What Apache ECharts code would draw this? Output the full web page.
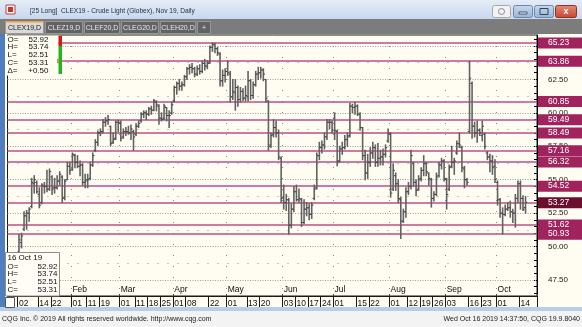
<!DOCTYPE html>
<html><head><meta charset="utf-8">
<script src="https://cdn.jsdelivr.net/npm/echarts@6/dist/echarts.min.js"></script>
<style>html,body{margin:0;padding:0;background:#fff;}#c{width:582px;height:327px;}</style>
</head><body><div id="c"></div>
<script>
// ---- data ----
const opens  = [49.6,50.3,51.3,52.3,52.5,53.0,54.7,54.8,53.9,53.3,54.5,54.5,54.3,55.2,54.4,54.4,54.9,55.2,53.7,55.0,56.0,
  55.8,56.8,56.3,56.0,56.1,54.8,55.0,55.1,56.1,57.2,57.8,58.5,58.6,59.3,59.4,59.0,57.8,58.1,59.3,
  59.2,58.2,58.6,58.6,58.5,58.6,58.4,59.0,59.4,59.9,60.0,59.9,60.3,60.2,60.8,60.5,59.6,59.6,60.4,59.8,60.0,
  60.9,61.9,62.2,62.0,62.1,62.7,63.3,63.4,63.3,62.9,63.3,63.1,63.7,63.5,63.8,64.9,65.1,64.8,64.4,62.4,62.8,
  63.1,62.9,61.2,61.5,61.9,61.0,61.6,61.1,61.2,62.4,61.3,62.1,62.9,63.0,63.2,62.5,60.9,57.6,58.4,58.9,58.5,56.6,
  53.7,53.3,53.5,51.6,52.8,54.1,53.5,53.5,51.8,52.8,52.9,52.4,53.6,54.4,56.8,57.4,57.6,58.2,59.3,59.3,
  59.6,58.6,56.4,57.3,57.4,58.0,58.3,60.5,60.4,60.5,59.9,58.9,56.8,55.5,56.3,57.0,57.4,56.3,56.6,56.7,56.9,57.9,
  58.4,54.3,55.3,54.7,53.5,51.9,52.6,54.1,54.5,56.2,54.8,54.3,55.1,55.7,56.2,55.5,55.0,53.6,53.9,55.3,56.1,56.4,
  55.0,54.3,56.0,56.3,57.0,57.7,57.4,55.8,55.0,58.6,62.2,59.0,58.5,58.7,58.3,58.4,57.0,56.7,56.4,56.0,
  54.8,53.5,52.5,52.4,52.8,52.9,52.6,52.5,53.6,54.7,53.6,52.92];
const highs  = [50.9,51.0,52.6,52.7,52.9,55.1,55.3,54.9,54.4,54.7,54.8,55.7,55.8,55.3,55.1,55.3,55.6,55.3,55.0,56.3,56.3,
  57.0,56.9,56.8,56.4,56.2,55.4,55.4,56.3,57.0,58.0,58.65,58.8,59.5,59.65,59.8,59.0,58.5,59.4,59.45,
  59.4,58.8,58.9,59.0,59.1,58.7,59.2,59.4,60.0,60.15,60.15,60.4,60.5,61.0,60.9,60.6,60.0,60.65,60.4,60.15,60.8,
  62.0,62.3,62.5,62.3,62.8,63.4,63.6,63.7,63.4,63.5,63.6,63.9,64.0,63.9,65.0,65.25,65.2,64.9,64.5,63.2,63.3,
  63.9,63.1,62.5,62.5,62.0,61.9,61.8,62.0,63.1,62.5,62.3,63.1,63.4,63.4,63.3,62.5,60.9,58.5,59.5,59.4,58.7,56.7,
  54.6,53.9,53.6,53.2,54.5,54.6,54.3,53.6,53.5,53.3,53.2,53.3,54.6,57.0,57.8,57.9,58.5,59.5,59.5,59.4,
  60.0,58.7,57.5,57.8,58.3,58.5,60.7,60.65,60.8,60.6,60.0,58.9,57.2,56.9,57.4,57.8,57.6,57.7,57.2,57.3,57.6,58.8,
  58.5,56.2,55.5,55.0,53.7,52.8,54.4,54.8,57.2,56.3,55.0,55.3,55.9,56.8,56.3,55.5,55.1,54.1,55.5,56.3,56.6,56.5,
  55.1,56.1,57.5,56.6,57.9,58.5,57.5,56.0,55.1,63.86,62.3,59.3,59.4,58.8,59.4,58.5,57.1,56.9,56.8,56.5,
  54.9,53.6,52.9,53.1,53.3,53.4,52.8,53.9,54.9,54.9,53.8,53.74];
const lows   = [49.4,49.9,51.2,51.3,51.9,52.9,54.0,54.0,52.9,53.2,54.0,54.1,54.2,53.9,54.0,54.3,54.6,53.3,53.5,55.0,55.4,
  55.7,55.9,55.9,55.3,54.6,54.4,54.4,55.0,56.0,57.1,57.55,58.3,58.5,59.0,59.15,57.55,57.7,58.0,58.6,
  57.9,58.1,58.3,58.4,58.0,57.2,58.3,58.9,59.3,59.65,59.5,59.8,59.9,60.15,60.15,59.15,59.4,59.5,59.4,58.9,59.9,
  60.8,61.4,61.7,61.7,62.0,62.5,62.9,63.0,62.7,62.8,62.9,63.0,63.2,63.3,63.7,64.6,64.5,64.3,62.0,62.0,62.3,
  62.8,60.8,61.0,60.2,60.5,60.8,60.9,60.9,60.9,61.0,61.1,62.0,62.5,62.6,62.4,60.8,57.2,57.4,58.2,58.2,56.5,53.3,
  52.8,52.7,50.93,51.4,52.6,53.4,53.3,51.5,51.7,52.3,52.0,52.1,53.5,54.3,56.5,57.0,57.3,58.0,58.8,58.5,
  58.0,56.05,56.3,56.9,57.3,57.5,58.2,60.0,59.9,59.8,58.7,56.5,55.0,55.1,56.0,56.6,56.0,56.0,56.1,56.1,56.7,57.8,
  53.7,54.2,54.2,53.3,50.6,51.8,52.2,53.9,54.3,54.5,53.8,54.2,54.9,55.3,55.3,54.6,52.95,53.4,53.8,55.2,55.8,54.9,
  52.8,54.2,55.9,55.4,56.9,57.4,55.6,54.4,54.6,58.5,58.1,58.2,57.8,58.3,57.9,57.3,56.5,55.6,55.4,54.8,
  53.1,52.2,50.95,52.3,52.7,52.2,51.8,51.45,53.3,52.8,52.7,52.51];
const closes = [50.5,50.8,52.3,52.5,52.8,54.8,55.0,54.1,53.1,54.6,54.5,54.3,55.6,54.3,54.4,54.9,55.4,53.6,54.9,56.0,55.7,
  56.9,56.3,56.0,56.1,54.8,54.9,55.0,56.1,56.8,57.8,58.5,58.6,59.3,59.4,59.5,57.7,58.0,59.3,59.3,
  58.1,58.6,58.6,58.5,58.8,58.2,59.0,59.2,59.9,60.0,59.9,60.3,60.2,60.9,60.6,59.6,59.5,60.5,59.8,59.8,60.6,
  61.9,62.2,62.0,62.1,62.7,63.3,63.4,63.3,62.9,63.3,63.1,63.7,63.5,63.7,64.9,65.1,64.8,64.5,62.4,62.8,63.1,
  63.0,61.2,61.6,61.9,61.0,61.6,61.1,61.3,62.4,61.3,62.1,62.9,63.0,63.2,62.9,61.1,57.5,58.3,58.9,58.5,56.7,53.6,
  53.3,53.5,51.6,52.8,54.1,53.5,53.6,51.8,52.8,52.9,52.4,53.1,54.3,56.8,57.4,57.6,58.2,59.3,59.3,58.7,
  58.7,56.4,57.3,57.4,58.0,58.2,60.5,60.4,60.5,59.9,58.9,56.8,55.5,56.3,57.0,57.4,56.3,56.6,56.7,56.9,57.4,58.5,
  54.0,55.7,54.7,53.6,51.9,52.6,54.1,54.5,56.8,54.8,54.2,55.0,55.7,56.2,55.6,55.1,53.6,53.9,55.2,56.1,56.4,55.1,
  53.9,55.9,56.3,56.4,57.7,57.6,55.9,55.0,54.8,62.6,59.0,58.5,58.7,58.5,59.0,57.5,56.7,56.4,55.9,55.0,
  53.5,52.5,52.4,52.8,52.9,52.6,52.5,53.6,54.7,53.6,52.8,53.31];
const holidays = ['2019-01-21','2019-02-18','2019-04-19','2019-05-27','2019-07-04','2019-09-02'];
const weekTickDates = ['2019-01-02','2019-01-14','2019-01-22','2019-02-01','2019-02-11','2019-02-19','2019-03-01','2019-03-11',
  '2019-03-18','2019-03-25','2019-04-01','2019-04-08','2019-04-22','2019-05-01','2019-05-13','2019-05-20','2019-06-03','2019-06-10',
  '2019-06-17','2019-06-24','2019-07-01','2019-07-15','2019-07-22','2019-08-01','2019-08-12','2019-08-19','2019-08-26','2019-09-03',
  '2019-09-16','2019-09-23','2019-10-01','2019-10-14'];
const monthStartDates = ['2019-02-01','2019-03-01','2019-04-01','2019-05-01','2019-06-03','2019-07-01','2019-08-01','2019-09-03','2019-10-01'];
const monthNames = ['Feb','Mar','Apr','May','Jun','Jul','Aug','Sep','Oct'];
const gridPrices = [47.5,50,52.5,55,57.5,60,62.5,65];
const sparsePrices = [48.75,51.25,53.75,56.25,58.75,61.25,63.75];
const levelPrices = [65.23,63.86,60.85,59.49,58.49,57.16,56.32,54.52,51.62,50.93];
const lastPrice = 53.27;
const minorTicks = [];
for (let v = 46.5; v <= 65.5; v += 0.5) minorTicks.push(+v.toFixed(2));

// ---- trading calendar for the category axis ----
function buildDates(){
  const out=[]; const d=new Date(Date.UTC(2019,0,2)); const end=Date.UTC(2019,9,16);
  while(d.getTime()<=end){
    const wd=d.getUTCDay(); const s=d.toISOString().slice(0,10);
    if(wd!==0&&wd!==6&&holidays.indexOf(s)<0) out.push(s);
    d.setUTCDate(d.getUTCDate()+1);
  }
  return out;
}
const dates = buildDates();
const cats = ['p0','p1','p2','p3'].concat(dates, ['q0','q1','q2','q3']);
const tickSet = new Set(weekTickDates);
const monthMap = {}; monthStartDates.forEach((d,i)=>monthMap[d]=monthNames[i]);
const ohlc = dates.map((d,i)=>[d, opens[i], highs[i], lows[i], closes[i]]);

const FONT = '"Liberation Sans", Arial, sans-serif';
const chart = echarts.init(document.getElementById('c'), null, {renderer:'canvas', width:582, height:327});

function renderItem(params, api){
  const x = api.value(0);
  const o = api.coord([x, api.value(1)]);
  const h = api.coord([x, api.value(2)]);
  const l = api.coord([x, api.value(3)]);
  const c = api.coord([x, api.value(4)]);
  const cx = h[0];
  const st = {stroke:'#626262', lineWidth:1.6};
  return {type:'group', children:[
    {type:'line', shape:{x1:cx,y1:h[1]-0.5,x2:cx,y2:l[1]+0.5}, style:st},
    {type:'line', shape:{x1:cx-1.7,y1:o[1],x2:cx,y2:o[1]}, style:{stroke:'#444', lineWidth:1}},
    {type:'line', shape:{x1:cx,y1:c[1],x2:cx+1.7,y2:c[1]}, style:{stroke:'#444', lineWidth:1}}
  ]};
}

function txt(x,y,text,opt){
  opt = opt||{};
  return {type:'text', x:x, y:y, z:120, scaleX:opt.sx||1, style:{text:text, x:0, y:0, fill:opt.fill||'#111',
    font:(opt.w||'normal')+' '+(opt.fs||8)+'px '+FONT, align:opt.align||'left', verticalAlign:'middle'}};
}
function rect(x,y,w,h,fill,stroke,r){
  return {type:'rect', z:110, shape:{x:x,y:y,width:w,height:h,r:r||0}, style:{fill:fill, stroke:stroke||null, lineWidth:1}};
}
const G = [];
// title bar
G.push({type:'rect', z:100, shape:{x:0,y:0,width:582,height:19}, style:{fill:new echarts.graphic.LinearGradient(0,0,0,1,[{offset:0,color:'#E4EDF8'},{offset:1,color:'#C8D8EE'}])}});
G.push(rect(6,5,9,9,'#FFFFFF','#C04040'));
G.push(rect(8,7,5,5,'#D03030'));
G.push(txt(30,10.5,'[25 Long]  CLEX19 - Crude Light (Globex), Nov 19, Daily',{fs:8,sx:0.82,fill:'#1E2A3A'}));
G.push(rect(492.5,5.5,18,12,'#F2F2F2','#A8A8A8',2));
G.push({type:'circle', z:115, shape:{cx:501.5,cy:11.5,r:3}, style:{fill:'none', stroke:'#888', lineWidth:1}});
G.push({type:'rect', z:110, shape:{x:513.5,y:5.5,width:19,height:12,r:2}, style:{fill:new echarts.graphic.LinearGradient(0,0,0,1,[{offset:0,color:'#C9D9EE'},{offset:1,color:'#99B3D8'}]), stroke:'#6A88B2'}});
G.push(rect(519,12,8,2,'#FFFFFF','#44556A'));
G.push({type:'rect', z:110, shape:{x:534.5,y:5.5,width:19,height:12,r:2}, style:{fill:new echarts.graphic.LinearGradient(0,0,0,1,[{offset:0,color:'#C9D9EE'},{offset:1,color:'#99B3D8'}]), stroke:'#6A88B2'}});
G.push(rect(540,8.5,8,6,'none','#33445A'));
G.push({type:'rect', z:110, shape:{x:555.5,y:5.5,width:21,height:12,r:2}, style:{fill:new echarts.graphic.LinearGradient(0,0,0,1,[{offset:0,color:'#E58C78'},{offset:1,color:'#C8432E'}]), stroke:'#8E3324'}});
G.push(txt(566,11.5,'x',{fs:9,fill:'#FFFFFF',align:'center',w:'bold'}));
// tab row
G.push(rect(0,19,582,15,'#7C7C7C'));
const tabs = [['CLEX19,D',5,43],['CLEZ19,D',45,82],['CLEF20,D',84,119],['CLEG20,D',121,158],['CLEH20,D',160,195],['+',197,210]];
tabs.forEach((t,i)=>{
  G.push(rect(t[1]+0.5,21.5,t[2]-t[1],12, i===0?'#D9D9D9':'#636363', i===0?'#9A9A9A':'#979797'));
  if(i===0) G.push(rect(t[1]+0.5,21,t[2]-t[1],1.5,'#F0A53A'));
  G.push(txt((t[1]+t[2])/2+0.5,28,t[0],{fs:7,fill:i===0?'#222':'#E6E6E6',align:'center',sx:1}));
});
// left frame strip
G.push(rect(0,34,5,277,'#4E7EBE'));
// bottom frame and status bar
G.push(rect(0,307,582,4,'#BACDE6'));
G.push(rect(0,311,582,16,'#F3F3F3'));
G.push(txt(2,319.5,'CQG Inc. \u00A9 2019 All rights reserved worldwide. http://www.cqg.com',{fs:7,fill:'#222'}));
G.push(txt(580,319.5,'Wed Oct 16 2019 14:37:50, CQG 19.9.8040',{fs:7,fill:'#222',align:'right'}));
// top-left OHLC box
G.push(rect(5.5,35.5,53,40,'#FFFCF1'));
const topRows = [['O=','52.92'],['H=','53.74'],['L=','52.51'],['C=','53.31'],['\u0394=','+0.50']];
topRows.forEach((r,i)=>{
  G.push(txt(7.5,39.5+i*7.7,r[0],{fs:8}));
  G.push(txt(48.5,39.5+i*7.7,r[1],{fs:8,align:'right'}));
});
G.push(rect(58.5,36,3.5,10,'#D01818'));
G.push(rect(58.5,46,3.5,28,'#22B422'));
G.push({type:'polygon', z:115, shape:{points:[[57.5,59],[60,61],[57.5,63]]}, style:{fill:'#E8B020', stroke:'#7A5A00', lineWidth:0.5}});
// bottom-left date box
G.push(rect(5.5,252.5,54,43.5,'#FFFDF6','#8C8C8C'));
G.push(txt(7.5,258,'16 Oct 19',{fs:8}));
const botRows = [['O=','52.92'],['H=','53.74'],['L=','52.51'],['C=','53.31']];
botRows.forEach((r,i)=>{
  G.push(txt(7.5,266.5+i*7.7,r[0],{fs:8}));
  G.push(txt(57.5,266.5+i*7.7,r[1],{fs:8,align:'right'}));
});
G.push(rect(5.5,297.5,9,10,'#FFFFFF','#555555'));

const mlBase = {silent:true, symbol:['none','none'], animation:false, precision:2, emphasis:{disabled:true}};

const option = {
  backgroundColor:'#FFFCF1',
  animation:false,
  grid:{left:7.5, right:45, top:35, bottom:31, show:true, borderColor:'#1a1a1a', borderWidth:1, backgroundColor:'#FFFCF1'},
  xAxis:[
    {type:'category', data:cats, boundaryGap:true,
     axisLine:{show:true, lineStyle:{color:'#1a1a1a'}},
     axisTick:{show:true, interval:(i,v)=>tickSet.has(v), length:11, lineStyle:{color:'#1a1a1a'}},
     axisLabel:{interval:(i,v)=>tickSet.has(v), formatter:v=>v.slice(8,10), fontSize:8.5, color:'#111', align:'left', margin:3, fontFamily:FONT},
     splitLine:{show:false}},
    {type:'category', data:cats, boundaryGap:true, position:'bottom',
     axisLine:{show:false},
     axisTick:{show:true, inside:true, length:2, interval:(i,v)=>!!monthMap[v], lineStyle:{color:'#444'}},
     axisLabel:{inside:true, interval:(i,v)=>!!monthMap[v], formatter:v=>monthMap[v]||'', fontSize:8.5, color:'#111', align:'left', margin:2, fontFamily:FONT},
     splitLine:{show:true, interval:(i,v)=>!!monthMap[v], lineStyle:{color:'#8a8a8a', type:[1,10]}}}
  ],
  yAxis:{type:'value', position:'right', min:46.303, max:65.823,
    axisLine:{show:true, lineStyle:{color:'#000'}},
    axisTick:{show:true, inside:true, length:3, customValues:minorTicks, lineStyle:{color:'#000'}},
    axisLabel:{show:false}, splitLine:{show:false}},
  graphic:{elements:G},
  series:[
    {type:'line', name:'grid', data:[], z:1, markLine:Object.assign({}, mlBase, {
      lineStyle:{color:'#9E9E9E', type:[1,1.5], width:1},
      label:{show:true, position:'end', distance:11, formatter:p=>Number(p.value).toFixed(2), color:'#222', fontSize:8, fontFamily:FONT},
      data:gridPrices.map(v=>({yAxis:v}))})},
    {type:'line', name:'sparse', data:[], z:1, markLine:Object.assign({}, mlBase, {
      lineStyle:{color:'#8E8E8E', type:[1,9], width:1},
      label:{show:false},
      data:sparsePrices.map(v=>({yAxis:v}))})},
    {type:'line', name:'levels', data:[], z:3, markLine:Object.assign({}, mlBase, {
      lineStyle:{color:'#BC5088', type:'solid', width:1.6},
      label:{show:true, position:'end', distance:1, formatter:p=>Number(p.value).toFixed(2), color:'#FFFFFF', fontSize:8.5, fontFamily:FONT,
        backgroundColor:'#A0235E', padding:[1,14,1,10]},
      data:levelPrices.map(v=>({yAxis:v}))})},
    {type:'line', name:'last', data:[], z:4, markLine:Object.assign({}, mlBase, {
      lineStyle:{color:'#BC5088', type:'solid', width:1.6},
      label:{show:true, position:'end', distance:1, formatter:p=>Number(p.value).toFixed(2), color:'#FFFFFF', fontSize:8.5, fontFamily:FONT,
        backgroundColor:'#6C0F2E', padding:[1,14,1,10]},
      data:[{yAxis:lastPrice}]})},
    {type:'custom', name:'CLX19', data:ohlc, z:5, clip:true, renderItem:renderItem,
     encode:{x:0, y:[1,2,3,4]}}
  ]
};
chart.setOption(option);
</script></body></html>
